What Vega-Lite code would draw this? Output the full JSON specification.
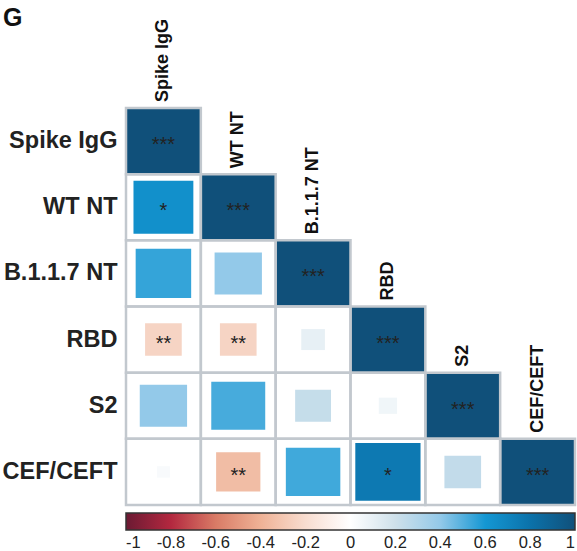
{
  "$schema": "https://vega.github.io/schema/vega-lite/v6.json",
  "width": 449,
  "height": 397,
  "autosize": "none",
  "padding": {"left": 126, "top": 108, "right": 2, "bottom": 46},
  "background": "white",
  "config": {"view": {"stroke": null}, "font": "Liberation Sans"},
  "title": {"text": "G", "anchor": "start", "frame": "group", "dx": -123, "dy": 16, "fontSize": 25, "fontWeight": "bold", "color": "#111"},
  "data": {
    "values": [
      {"row": "Spike IgG", "col": "Spike IgG", "r": 1, "sig": "***"},
      {"row": "WT NT", "col": "Spike IgG", "r": 0.64, "sig": "*"},
      {"row": "WT NT", "col": "WT NT", "r": 1, "sig": "***"},
      {"row": "B.1.1.7 NT", "col": "Spike IgG", "r": 0.55, "sig": ""},
      {"row": "B.1.1.7 NT", "col": "WT NT", "r": 0.4, "sig": ""},
      {"row": "B.1.1.7 NT", "col": "B.1.1.7 NT", "r": 1, "sig": "***"},
      {"row": "RBD", "col": "Spike IgG", "r": -0.24, "sig": "**"},
      {"row": "RBD", "col": "WT NT", "r": -0.24, "sig": "**"},
      {"row": "RBD", "col": "B.1.1.7 NT", "r": 0.1, "sig": ""},
      {"row": "RBD", "col": "RBD", "r": 1, "sig": "***"},
      {"row": "S2", "col": "Spike IgG", "r": 0.4, "sig": ""},
      {"row": "S2", "col": "WT NT", "r": 0.52, "sig": ""},
      {"row": "S2", "col": "B.1.1.7 NT", "r": 0.23, "sig": ""},
      {"row": "S2", "col": "RBD", "r": 0.06, "sig": ""},
      {"row": "S2", "col": "S2", "r": 1, "sig": "***"},
      {"row": "CEF/CEFT", "col": "Spike IgG", "r": 0.03, "sig": ""},
      {"row": "CEF/CEFT", "col": "WT NT", "r": -0.35, "sig": "**"},
      {"row": "CEF/CEFT", "col": "B.1.1.7 NT", "r": 0.53, "sig": ""},
      {"row": "CEF/CEFT", "col": "RBD", "r": 0.76, "sig": "*"},
      {"row": "CEF/CEFT", "col": "S2", "r": 0.24, "sig": ""},
      {"row": "CEF/CEFT", "col": "CEF/CEFT", "r": 1, "sig": "***"}
    ]
  },
  "encoding": {
    "x": {"field": "col", "type": "nominal", "scale": {"domain": ["Spike IgG", "WT NT", "B.1.1.7 NT", "RBD", "S2", "CEF/CEFT"], "paddingInner": 0, "paddingOuter": 0}, "axis": null},
    "y": {"field": "row", "type": "nominal", "scale": {"domain": ["Spike IgG", "WT NT", "B.1.1.7 NT", "RBD", "S2", "CEF/CEFT"], "paddingInner": 0, "paddingOuter": 0},
      "axis": {"title": null, "ticks": false, "domain": false, "labelFontSize": 23.5, "labelFontWeight": "bold", "labelColor": "#222", "labelPadding": 9}}
  },
  "layer": [
    {
      "mark": {"type": "point", "shape": "M-1,-0.886L1,-0.886L1,0.886L-1,0.886Z", "filled": true, "opacity": 1, "strokeWidth": 0},
      "encoding": {
        "color": {"field": "r", "type": "quantitative",
          "scale": {"domain": [-1, -0.8, -0.6, -0.4, -0.2, 0, 0.2, 0.4, 0.6, 0.8, 1], "interpolate": "rgb",
                    "range": ["#6b1a33", "#b3283f", "#d97b66", "#efb296", "#f8ddd0", "#ffffff", "#cee0ea", "#93c9e9", "#1497d3", "#0b72aa", "#10507a"]},
          "legend": {"orient": "none", "legendX": 0, "legendY": 405, "direction": "horizontal", "gradientLength": 449, "gradientThickness": 17, "title": null,
            "values": [-1, -0.8, -0.6, -0.4, -0.2, 0, 0.2, 0.4, 0.6, 0.8, 1], "labelFontSize": 16.5, "labelOffset": 5, "labelAlign": "center", "labelOverlap": false,
            "gradientStrokeColor": "#333", "gradientStrokeWidth": 1.5, "labelColor": "#222", "padding": 0,
            "labelExpr": "(datum.value < 0 ? '-' : '') + format(abs(datum.value), '~g')"}},
        "size": {"field": "r", "type": "quantitative", "scale": {"domain": [-1, 0, 1], "range": [5600, 0, 5600]}, "legend": null}
      }
    },
    {
      "mark": {"type": "rect", "filled": false, "stroke": "#c2c8ce", "strokeWidth": 2.5}
    },
    {
      "mark": {"type": "text", "fontSize": 20, "color": "#222", "baseline": "middle", "dy": 4},
      "encoding": {"text": {"field": "sig"}}
    },
    {
      "transform": [{"filter": "datum.row === datum.col"}],
      "mark": {"type": "text", "angle": 270, "align": "left", "baseline": "middle", "dx": 6, "fontSize": 18, "fontWeight": "bold", "color": "#111"},
      "encoding": {
        "y": {"field": "row", "type": "nominal", "bandPosition": 0},
        "text": {"field": "col"}
      }
    }
  ]
}
